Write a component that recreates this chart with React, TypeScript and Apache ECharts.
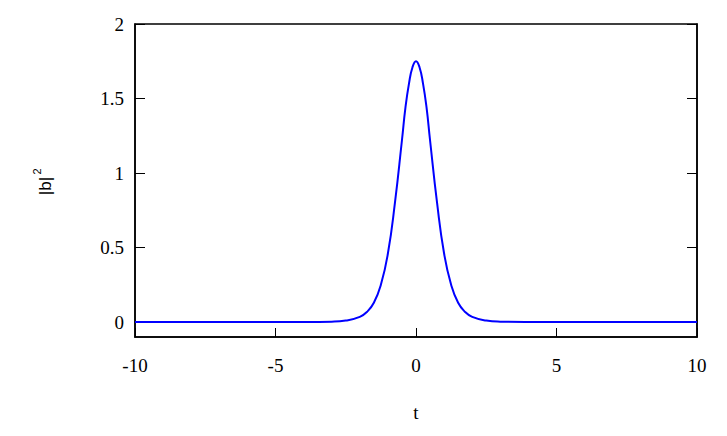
import React, { useEffect, useRef } from "react";
import * as echarts from "echarts";

const tValues = [-10, -4, -3, -2.5, -2, -1.75, -1.5, -1.25, -1, -0.75, -0.5, -0.375, -0.25, -0.125, 0, 0.125, 0.25, 0.375, 0.5, 0.75, 1, 1.25, 1.5, 1.75, 2, 2.5, 3, 4, 10];
const bValues = [0, 0.001, 0.003, 0.01, 0.035, 0.068, 0.13, 0.25, 0.46, 0.8, 1.22, 1.44, 1.6, 1.71, 1.75, 1.71, 1.6, 1.44, 1.22, 0.8, 0.46, 0.25, 0.13, 0.068, 0.035, 0.01, 0.003, 0.001, 0];
const yTicks = [0, 0.5, 1, 1.5, 2];
const xTicks = [-10, -5, 0, 5, 10];

export default function App() {
  const ref = useRef<HTMLDivElement>(null);
  useEffect(() => {
    if (!ref.current) return;
    const chart = echarts.init(ref.current, null, { renderer: "svg" });
    const serif = "'Liberation Serif', 'Times New Roman', serif";
    const sans = "'Liberation Sans', Arial, sans-serif";
    const labelStyle = { fontFamily: serif, fontSize: 19, color: "#000" };
    chart.setOption({
      animation: false,
      backgroundColor: "#fff",
      grid: { left: 135, right: 30, top: 24, bottom: 99, show: true, borderColor: "#000", borderWidth: 1.5, backgroundColor: "transparent" },
      xAxis: {
        type: "value",
        min: -10,
        max: 10,
        interval: 5,
        axisLine: { show: true, onZero: false, lineStyle: { color: "#000", width: 1.5 } },
        axisTick: { show: true, inside: true, length: 9, lineStyle: { color: "#000", width: 1 } },
        axisLabel: { ...labelStyle, margin: 19, customValues: xTicks },
        splitLine: { show: false },
      },
      yAxis: [
        {
          type: "value",
          min: -0.1,
          max: 2,
          position: "left",
          axisLine: { show: true, onZero: false, lineStyle: { color: "#000", width: 1.5 } },
          axisTick: { show: true, inside: true, length: 10, lineStyle: { color: "#000", width: 1 }, customValues: yTicks },
          axisLabel: { ...labelStyle, margin: 11, customValues: yTicks },
          splitLine: { show: false },
        },
        {
          type: "value",
          min: -0.1,
          max: 2,
          position: "right",
          axisLine: { show: true, onZero: false, lineStyle: { color: "#000", width: 1.5 } },
          axisTick: { show: true, inside: true, length: 10, lineStyle: { color: "#000", width: 1 }, customValues: yTicks },
          axisLabel: { show: false },
          splitLine: { show: false },
        },
      ],
      series: [
        {
          type: "line",
          data: tValues.map((t, i) => [t, bValues[i]]),
          smooth: true,
          showSymbol: false,
          lineStyle: { color: "#0000ff", width: 2 },
          itemStyle: { color: "#0000ff" },
        },
      ],
      graphic: [
        {
          type: "text",
          x: 416,
          y: 412,
          style: { text: "t", fontFamily: serif, fontSize: 19, fill: "#000", align: "center", verticalAlign: "middle" },
        },
        {
          type: "text",
          x: 45,
          y: 186,
          rotation: Math.PI / 2,
          style: { text: "|b|", fontFamily: sans, fontSize: 17, fill: "#000", align: "center", verticalAlign: "middle" },
        },
        {
          type: "text",
          x: 36.5,
          y: 171.5,
          rotation: Math.PI / 2,
          style: { text: "2", fontFamily: sans, fontSize: 11, fill: "#000", align: "center", verticalAlign: "middle" },
        },
      ],
    });
    return () => chart.dispose();
  }, []);
  return <div ref={ref} style={{ position: "fixed", left: 0, top: 0, width: 727, height: 436 }} />;
}
